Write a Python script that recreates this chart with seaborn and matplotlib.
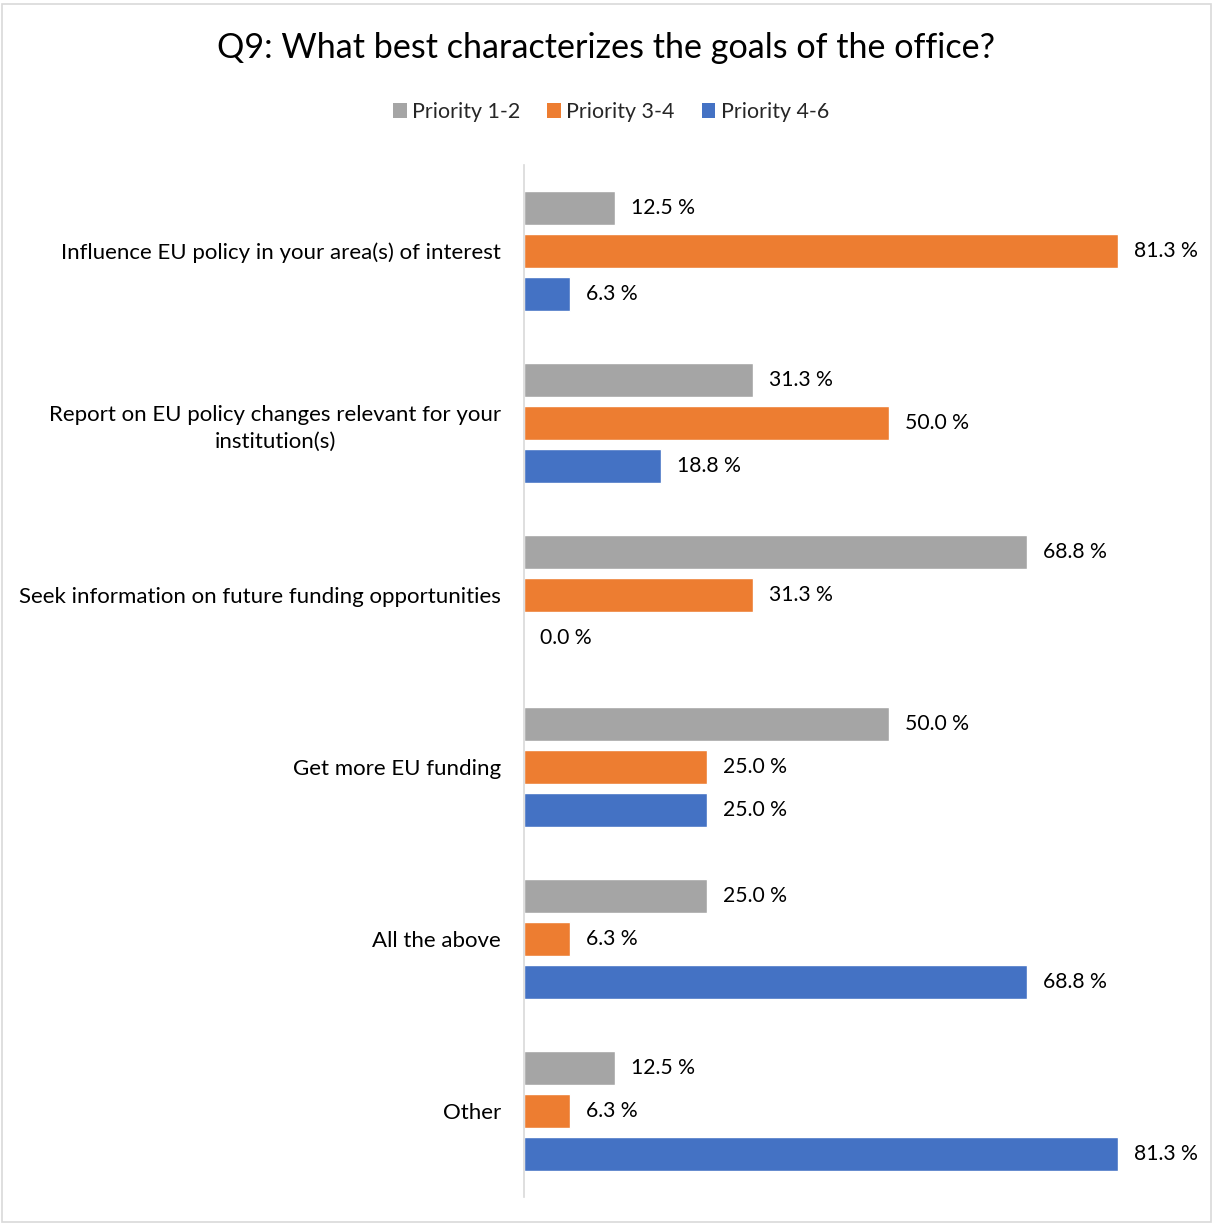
import matplotlib
matplotlib.use("Agg")
import matplotlib.pyplot as plt
import seaborn as sns
import pandas as pd
from matplotlib.patches import Rectangle

categories = [
    "Influence EU policy in your area(s) of interest",
    "Report on EU policy changes relevant for your\ninstitution(s)",
    "Seek information on future funding opportunities",
    "Get more EU funding",
    "All the above",
    "Other",
]
series_names = ["Priority 1-2", "Priority 3-4", "Priority 4-6"]
priority_1_2 = [12.5, 31.3, 68.8, 50.0, 25.0, 12.5]
priority_3_4 = [81.3, 50.0, 31.3, 25.0, 6.3, 6.3]
priority_4_6 = [6.3, 18.8, 0.0, 25.0, 68.8, 81.3]
colors = ["#A5A5A5", "#ED7D31", "#4472C4"]
title = "Q9: What best characterizes the goals of the office?"

rows = []
for name, vals in zip(series_names, [priority_1_2, priority_3_4, priority_4_6]):
    for cat, v in zip(categories, vals):
        rows.append({"category": cat, "series": name, "value": v})
df = pd.DataFrame(rows)

sns.set_theme(style="white")
plt.rcParams["font.family"] = ["Lato", "DejaVu Sans"]

W, H = 1212, 1226
fig = plt.figure(figsize=(W / 100, H / 100), dpi=100)
fig.patch.set_facecolor("white")

left, right_px, top, bottom = 524, 1212, 165, 1197
ax = fig.add_axes([left / W, 1 - bottom / H, (right_px - left) / W, (bottom - top) / H])

sns.barplot(data=df, y="category", x="value", hue="series", order=categories,
            hue_order=series_names, palette=colors, orient="h", width=0.75, gap=0.2,
            saturation=1, ax=ax, legend=False, errorbar=None)

scale = (1118 - 524) / 81.3
ax.set_xlim(0, (right_px - left) / scale)
ax.set_ylim(len(categories) - 0.5, -0.5)

for c in ax.containers:
    ax.bar_label(c, fmt="%.1f %%", padding=11.5, fontsize=15.2, color="#000000")

ax.set_xlabel("")
ax.set_ylabel("")
ax.set_xticks([])
for s in ["top", "right", "bottom"]:
    ax.spines[s].set_visible(False)
ax.spines["left"].set_color("#D9D9D9")
ax.spines["left"].set_linewidth(1.2)
ax.tick_params(axis="y", length=0, pad=16.5, labelsize=16, labelcolor="#000000")
for lbl in ax.get_yticklabels():
    lbl.set_multialignment("center")
    lbl.set_linespacing(1.45)
ax.set_facecolor("none")

fig.text(606 / W, 1 - 48 / H, title, ha="center", va="center", fontsize=24.6, color="#000000")

handles = [Rectangle((0, 0), 1, 1, facecolor=c, edgecolor="none") for c in colors]
fig.legend(handles, series_names, loc="center", bbox_to_anchor=(611 / W, 1 - 112 / H),
           ncol=3, frameon=False, fontsize=15.4, handlelength=0.65, handleheight=0.65,
           handletextpad=0.25, columnspacing=1.25)

fig.patches.append(Rectangle((2 / W, 4 / H), (W - 3) / W, (H - 8) / H, transform=fig.transFigure,
                             fill=False, edgecolor="#D9D9D9", linewidth=1.2))

fig.savefig("out.png", dpi=100)
